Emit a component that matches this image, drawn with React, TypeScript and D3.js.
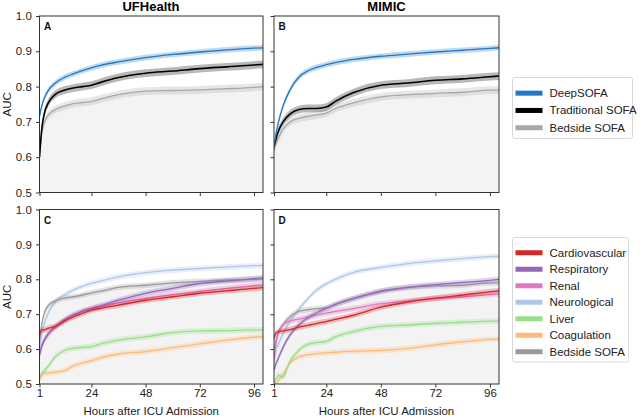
import { useEffect, useRef } from "react";
import * as d3 from "d3";

const hours = [1, 2, 3, 5, 8, 12, 16, 20, 24, 28, 36, 48, 60, 72, 84, 96, 100];
const xTicks = [1, 24, 48, 72, 96];
const yTicks = [0.5, 0.6, 0.7, 0.8, 0.9, 1.0];

// top row
const deepA = [0.715, 0.745, 0.765, 0.79, 0.81, 0.826, 0.836, 0.845, 0.853, 0.86, 0.87, 0.882, 0.891, 0.898, 0.904, 0.909, 0.91];
const tradA = [0.6, 0.68, 0.72, 0.755, 0.778, 0.79, 0.796, 0.8, 0.804, 0.812, 0.826, 0.838, 0.844, 0.851, 0.856, 0.861, 0.863];
const bedA = [0.6, 0.665, 0.695, 0.72, 0.735, 0.745, 0.752, 0.755, 0.758, 0.765, 0.777, 0.787, 0.789, 0.791, 0.794, 0.798, 0.8];
const deepB = [0.63, 0.67, 0.7, 0.745, 0.79, 0.827, 0.845, 0.855, 0.862, 0.868, 0.877, 0.886, 0.892, 0.898, 0.903, 0.908, 0.91];
const tradB = [0.63, 0.655, 0.675, 0.7, 0.722, 0.735, 0.738, 0.738, 0.742, 0.758, 0.783, 0.804, 0.81, 0.818, 0.822, 0.828, 0.83];
const bedB = [0.62, 0.64, 0.655, 0.68, 0.7, 0.71, 0.716, 0.72, 0.725, 0.738, 0.754, 0.771, 0.777, 0.781, 0.784, 0.79, 0.79];

// bottom row
const cardC = [0.64, 0.655, 0.655, 0.66, 0.665, 0.68, 0.692, 0.702, 0.712, 0.717, 0.726, 0.74, 0.75, 0.76, 0.767, 0.774, 0.776];
const respC = [0.585, 0.61, 0.625, 0.645, 0.665, 0.683, 0.698, 0.709, 0.717, 0.724, 0.74, 0.76, 0.774, 0.788, 0.795, 0.802, 0.805];
const renalC = [0.58, 0.605, 0.622, 0.643, 0.662, 0.683, 0.697, 0.707, 0.715, 0.721, 0.733, 0.745, 0.756, 0.765, 0.774, 0.782, 0.784];
const neuroC = [0.6, 0.64, 0.67, 0.705, 0.735, 0.755, 0.769, 0.78, 0.788, 0.795, 0.807, 0.819, 0.826, 0.831, 0.835, 0.839, 0.84];
const liverC = [0.52, 0.53, 0.537, 0.552, 0.578, 0.596, 0.602, 0.605, 0.607, 0.615, 0.626, 0.635, 0.647, 0.652, 0.653, 0.655, 0.655];
const coagC = [0.51, 0.525, 0.53, 0.532, 0.534, 0.538, 0.552, 0.56, 0.567, 0.575, 0.586, 0.593, 0.604, 0.615, 0.626, 0.634, 0.636];
const bedC = [0.62, 0.67, 0.7, 0.725, 0.738, 0.746, 0.75, 0.755, 0.761, 0.766, 0.777, 0.783, 0.79, 0.794, 0.798, 0.8, 0.8];
const cardD = [0.63, 0.648, 0.65, 0.652, 0.656, 0.663, 0.668, 0.674, 0.679, 0.685, 0.697, 0.72, 0.735, 0.746, 0.755, 0.764, 0.767];
const respD = [0.54, 0.56, 0.575, 0.605, 0.64, 0.67, 0.69, 0.705, 0.717, 0.728, 0.745, 0.765, 0.777, 0.785, 0.791, 0.797, 0.8];
const renalD = [0.57, 0.62, 0.646, 0.67, 0.68, 0.686, 0.692, 0.698, 0.703, 0.708, 0.716, 0.73, 0.738, 0.745, 0.75, 0.756, 0.758];
const neuroD = [0.56, 0.6, 0.615, 0.645, 0.68, 0.715, 0.745, 0.77, 0.787, 0.8, 0.82, 0.834, 0.845, 0.853, 0.859, 0.865, 0.866];
const liverD = [0.5, 0.515, 0.525, 0.52, 0.565, 0.597, 0.614, 0.619, 0.622, 0.635, 0.65, 0.665, 0.669, 0.674, 0.677, 0.68, 0.68];
const coagD = [0.49, 0.5, 0.511, 0.528, 0.56, 0.578, 0.584, 0.587, 0.589, 0.591, 0.594, 0.596, 0.602, 0.612, 0.621, 0.628, 0.629];
const bedD = [0.6, 0.63, 0.65, 0.67, 0.693, 0.708, 0.713, 0.716, 0.718, 0.728, 0.745, 0.767, 0.777, 0.781, 0.783, 0.79, 0.79];

const topNames = ["DeepSOFA", "Traditional SOFA", "Bedside SOFA"];
const topColors = ["#2178c4", "#000000", "#a8a8a8"];
const bottomNames = ["Cardiovascular", "Respiratory", "Renal", "Neurological", "Liver", "Coagulation", "Bedside SOFA"];
const bottomColors = ["#d62728", "#9467bd", "#e377c2", "#aec7e8", "#98df8a", "#ffbb78", "#9a9a9a"];

const FONT = "'Liberation Sans', Arial, Helvetica, sans-serif";

interface Panel {
  label: string;
  left: number;
  right: number;
  top: number;
  bottom: number;
  series: number[][];
  colors: string[];
  bedside: number[];
  xLabels: boolean;
  yLabels: boolean;
}

export default function App() {
  const svgRef = useRef<SVGSVGElement>(null);

  useEffect(() => {
    if (!svgRef.current) return;
    const svg = d3.select(svgRef.current);
    svg.selectAll("*").remove();

    const cols = [[39.5, 263], [274, 499]];
    const rows = [[16, 192.5], [209.5, 384]];
    const bottomOrder = ["#ffbb78", "#98df8a", "#aec7e8", "#9a9a9a", "#e377c2", "#9467bd", "#d62728"];

    const panels: Panel[] = [
      { label: "A", left: cols[0][0], right: cols[0][1], top: rows[0][0], bottom: rows[0][1], series: [bedA, tradA, deepA], colors: [topColors[2], topColors[1], topColors[0]], bedside: bedA, xLabels: false, yLabels: true },
      { label: "B", left: cols[1][0], right: cols[1][1], top: rows[0][0], bottom: rows[0][1], series: [bedB, tradB, deepB], colors: [topColors[2], topColors[1], topColors[0]], bedside: bedB, xLabels: false, yLabels: false },
      { label: "C", left: cols[0][0], right: cols[0][1], top: rows[1][0], bottom: rows[1][1], series: [coagC, liverC, neuroC, bedC, renalC, respC, cardC], colors: bottomOrder, bedside: bedC, xLabels: true, yLabels: true },
      { label: "D", left: cols[1][0], right: cols[1][1], top: rows[1][0], bottom: rows[1][1], series: [coagD, liverD, neuroD, bedD, renalD, respD, cardD], colors: bottomOrder, bedside: bedD, xLabels: true, yLabels: false },
    ];

    panels.forEach((p, pi) => {
      const x = d3.scaleLinear().domain([1, 100]).range([p.left, p.right]);
      const y = d3.scaleLinear().domain([0.5, 1.0]).range([p.bottom, p.top]);
      const clipId = `clip-${pi}`;
      svg.append("clipPath").attr("id", clipId)
        .append("rect").attr("x", p.left).attr("y", p.top)
        .attr("width", p.right - p.left).attr("height", p.bottom - p.top);

      const g = svg.append("g").attr("clip-path", `url(#${clipId})`);

      // shaded area under bedside SOFA
      const area = d3.area<number>()
        .x((_, i) => x(hours[i]))
        .y0(y(0.5))
        .y1((d) => y(d))
        .curve(d3.curveMonotoneX);
      g.append("path").attr("d", area(p.bedside) as string).attr("fill", "#f3f3f3");

      p.series.forEach((s, si) => {
        const color = p.colors[si];
        const w = color === "#000000" || color === "#a8a8a8" ? 0.011 : 0.008;
        const band = d3.area<number>()
          .x((_, i) => x(hours[i]))
          .y0((d) => y(d - w))
          .y1((d) => y(d + w))
          .curve(d3.curveMonotoneX);
        g.append("path").attr("d", band(s) as string).attr("fill", color).attr("opacity", 0.28);
        const line = d3.line<number>()
          .x((_, i) => x(hours[i]))
          .y((d) => y(d))
          .curve(d3.curveMonotoneX);
        g.append("path").attr("d", line(s) as string).attr("fill", "none")
          .attr("stroke", color).attr("stroke-width", color === "#000000" ? 1.6 : 1.3);
      });

      // frame
      svg.append("rect").attr("x", p.left).attr("y", p.top)
        .attr("width", p.right - p.left).attr("height", p.bottom - p.top)
        .attr("fill", "none").attr("stroke", "#333").attr("stroke-width", 1);

      svg.append("text").attr("x", p.left + 4.5).attr("y", p.top + 14)
        .attr("font-family", FONT).attr("font-size", 10).attr("font-weight", "bold")
        .attr("fill", "#111").text(p.label);

      // axes
      const yAxis = d3.axisLeft(y).tickValues(yTicks).tickSize(3.5).tickSizeOuter(0)
        .tickFormat((d) => (p.yLabels ? d3.format(".1f")(d as number) : ""));
      const ya = svg.append("g").attr("transform", `translate(${p.left},0)`).call(yAxis);
      ya.select(".domain").remove();
      ya.selectAll("line").attr("stroke", "#333");
      ya.selectAll("text").attr("font-family", FONT).attr("font-size", 11.5).attr("fill", "#222").attr("dx", "-0.1em");

      const xAxis = d3.axisBottom(x).tickValues(xTicks).tickSize(3.5).tickSizeOuter(0)
        .tickFormat((d) => (p.xLabels ? String(d) : ""));
      const xa = svg.append("g").attr("transform", `translate(0,${p.bottom})`).call(xAxis);
      xa.select(".domain").remove();
      xa.selectAll("line").attr("stroke", "#333");
      xa.selectAll("text").attr("font-family", FONT).attr("font-size", 11.5).attr("fill", "#222").attr("dy", "0.6em");

      if (p.yLabels) {
        svg.append("text").attr("transform", `translate(11,${(p.top + p.bottom) / 2}) rotate(-90)`)
          .attr("text-anchor", "middle").attr("font-family", FONT).attr("font-size", 11.5)
          .attr("fill", "#222").text("AUC");
      }
      if (p.xLabels) {
        svg.append("text").attr("x", (p.left + p.right) / 2).attr("y", 415)
          .attr("text-anchor", "middle").attr("font-family", FONT).attr("font-size", 11.5)
          .attr("fill", "#222").text("Hours after ICU Admission");
      }
    });

    // column titles
    svg.append("text").attr("x", 151).attr("y", 11).attr("text-anchor", "middle")
      .attr("font-family", FONT).attr("font-size", 13).attr("font-weight", "bold").text("UFHealth");
    svg.append("text").attr("x", 386.5).attr("y", 11).attr("text-anchor", "middle")
      .attr("font-family", FONT).attr("font-size", 13).attr("font-weight", "bold").text("MIMIC");

    // legends
    const drawLegend = (names: string[], colors: string[], x0: number, y0: number, w: number, step: number) => {
      const h = names.length * step + 9;
      svg.append("rect").attr("x", x0).attr("y", y0).attr("width", w).attr("height", h)
        .attr("rx", 2).attr("fill", "#fff").attr("stroke", "#d8d8d8").attr("stroke-width", 1);
      names.forEach((n, i) => {
        const cy = y0 + 8 + step * i + step / 2 - 1;
        svg.append("rect").attr("x", x0 + 3).attr("y", cy - 2.5).attr("width", 27).attr("height", 5)
          .attr("fill", colors[i]);
        svg.append("text").attr("x", x0 + 37).attr("y", cy + 4).attr("font-family", FONT)
          .attr("font-size", 11.5).attr("fill", "#222").text(n);
      });
    };
    drawLegend(topNames, topColors, 512.5, 77.5, 120, 17.3);
    drawLegend(bottomNames, bottomColors, 512.5, 237.5, 116, 16.5);
  }, []);

  return (
    <div style={{ position: "absolute", left: 0, top: 0 }}>
      <svg ref={svgRef} width={640} height={418} style={{ display: "block", background: "#fff" }} />
    </div>
  );
}
